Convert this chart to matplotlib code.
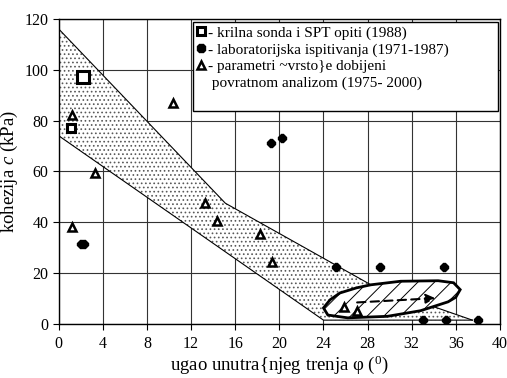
import matplotlib.pyplot as plt
from matplotlib.patches import Polygon, FancyArrowPatch
from matplotlib.lines import Line2D

plt.rcParams['font.family'] = ['Liberation Serif', 'DejaVu Serif']
plt.rcParams['mathtext.fontset'] = 'custom'
plt.rcParams['mathtext.rm'] = 'Liberation Serif'
plt.rcParams['mathtext.it'] = 'Liberation Serif:italic'
plt.rcParams['hatch.linewidth'] = 0.7

# krilna sonda i SPT opiti (1988)
vane_phi = [1.1, 2.2]
vane_c = [77, 97]
vane_size = [5.5, 9]

# laboratorijska ispitivanja (1971-1987)
lab_phi = [2.0, 2.3, 19.2, 20.2, 25.1, 29.1, 34.9, 33.0, 35.1, 38.0]
lab_c = [31.5, 31.5, 71, 73, 22.4, 22.4, 22.4, 1.5, 1.5, 1.5]

# parametri cvrstoce dobijeni povratnom analizom (1975-2000)
back_phi = [1.2, 1.2, 3.3, 10.4, 13.3, 14.3, 18.2, 19.3, 25.9, 27.0]
back_c = [82.3, 38, 59.4, 87, 47.6, 40.5, 35.4, 24.4, 6.7, 5.0]

# zona (band) boundaries
band_upper_phi = [0, 15.1, 28.3, 37.5]
band_upper_c = [116, 47.5, 15.4, 1.5]
band_lower_phi = [0, 24.0, 37.5]
band_lower_c = [74, 1.5, 1.5]

# hatched blob
blob_phi = [24.0, 24.6, 25.5, 27.0, 28.3, 31.0, 34.4, 35.8, 36.4, 36.0, 35.3,
            32.8, 29.8, 26.2, 24.4]
blob_c = [6.3, 9.5, 12.2, 14.2, 15.4, 16.8, 17.0, 16.2, 13.5, 10.5, 8.7,
          5.2, 3.0, 2.4, 3.5]
arrow_phi = [26.8, 34.4]
arrow_c = [8.4, 10.2]

fig = plt.figure(figsize=(5.07, 3.78), dpi=100)
ax = fig.add_axes([0.116, 0.143, 0.87, 0.807])

band = Polygon(list(zip(band_upper_phi, band_upper_c)) +
               list(zip(band_lower_phi, band_lower_c))[::-1],
               closed=True, facecolor='white', edgecolor='0.35', hatch='....',
               linewidth=0, zorder=1)
ax.add_patch(band)
ax.plot(band_upper_phi, band_upper_c, color='black', lw=0.8, zorder=2)
ax.plot(band_lower_phi, band_lower_c, color='black', lw=0.8, zorder=2)

blob = Polygon(list(zip(blob_phi, blob_c)), closed=True, facecolor='white',
               edgecolor='black', hatch='//', linewidth=2, zorder=3)
ax.add_patch(blob)
ax.add_patch(FancyArrowPatch((arrow_phi[0], arrow_c[0]), (arrow_phi[1], arrow_c[1]),
                             arrowstyle='-|>', mutation_scale=14, linestyle=(0, (4, 2.5)),
                             color='black', lw=1.5, zorder=4))

for p, c, s in zip(vane_phi, vane_c, vane_size):
    ax.plot(p, c, marker='s', ms=s, mfc='white', mec='black', mew=2.2, zorder=5)
ax.plot(lab_phi, lab_c, ls='none', marker='8', ms=5.5, color='black', zorder=5)
ax.plot(back_phi, back_c, ls='none', marker='^', ms=5.5, mfc='white', mec='black',
        mew=1.8, zorder=5)

ax.set_xlim(0, 40)
ax.set_ylim(0, 120)
ax.set_xticks(range(0, 41, 4))
ax.set_yticks(range(0, 121, 20))
ax.grid(True, color='0.2', lw=0.8)
ax.set_axisbelow(True)
ax.tick_params(labelsize=11.5, direction='out', length=4, color='black')
ax.tick_params(axis='x', pad=5)
for sp in ax.spines.values():
    sp.set_linewidth(1.0)

ax.set_xlabel('ugao unutra{njeg trenja φ ($^0$)', fontsize=13.5, labelpad=1)
ax.set_ylabel('kohezija $c$ (kPa)', fontsize=13.5, labelpad=3)

handles = [
    Line2D([], [], ls='none', marker='s', ms=6, mfc='white', mec='black', mew=2.2),
    Line2D([], [], ls='none', marker='8', ms=6, color='black'),
    Line2D([], [], ls='none', marker='^', ms=5.5, mfc='white', mec='black', mew=1.8),
    Line2D([], [], ls='none'),
    Line2D([], [], ls='none'),
]
labels = ['- krilna sonda i SPT opiti (1988)',
          '- laboratorijska ispitivanja (1971-1987)',
          '- parametri ~vrsto}e dobijeni',
          ' povratnom analizom (1975- 2000)',
          '']
leg = ax.legend(handles, labels, loc='upper left', bbox_to_anchor=(0.304, 0.99, 0.691, 0.0),
                mode='expand', fontsize=11, handlelength=0.5, handletextpad=0.25,
                labelspacing=0.2, borderaxespad=0.0, borderpad=0.25, fancybox=False,
                framealpha=1, edgecolor='black')
leg.get_frame().set_linewidth(1.0)

fig.savefig('out.png', dpi=100)
